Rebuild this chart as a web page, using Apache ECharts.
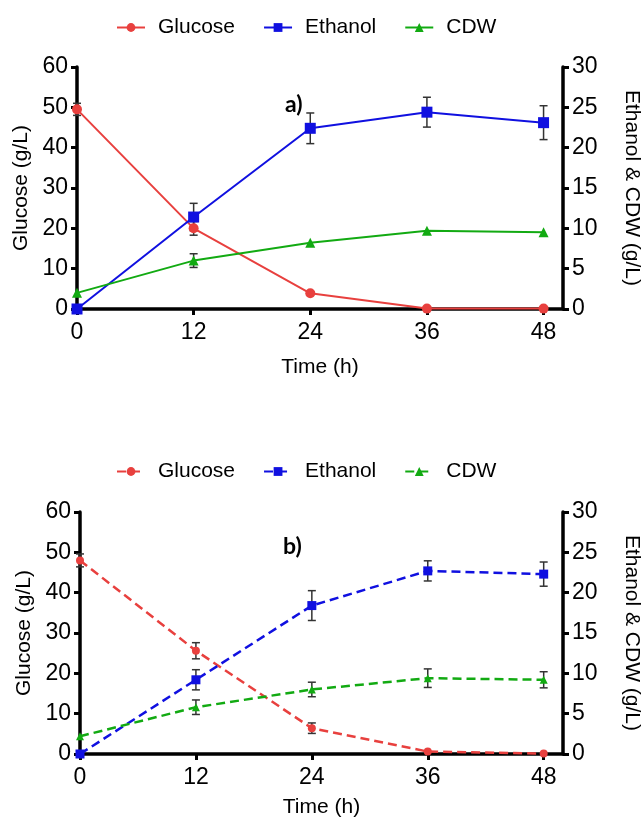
<!DOCTYPE html>
<html>
<head>
<meta charset="utf-8">
<script src="https://cdn.jsdelivr.net/npm/echarts@6/dist/echarts.min.js"></script>
<style>
  html, body { margin: 0; padding: 0; background: #fff; }
  #chart { width: 644px; height: 818px; }
</style>
</head>
<body>
<div id="chart"></div>
<script>
// time points (h)
var time = [0, 12, 24, 36, 48];
var xTicks = [0, 12, 24, 36, 48];

// panel a) - solid lines
var aGlucose = [49.5, 20.0, 3.9, 0.1, 0.1];
var aGlucoseErr = [1.5, 1.7, 0, 0, 0];
var aEthanol = [0, 11.4, 22.4, 24.4, 23.1];
var aEthanolErr = [0, 1.7, 1.9, 1.85, 2.1];
var aCdw = [2.0, 6.0, 8.2, 9.7, 9.5];
var aCdwErr = [0, 0.85, 0, 0, 0];

// panel b) - dashed lines
var bGlucose = [48.0, 25.6, 6.4, 0.6, 0.1];
var bGlucoseErr = [1.6, 2.0, 1.3, 0, 0];
var bEthanol = [0, 9.2, 18.4, 22.7, 22.3];
var bEthanolErr = [0, 1.25, 1.85, 1.25, 1.5];
var bCdw = [2.2, 5.8, 8.0, 9.4, 9.2];
var bCdwErr = [0, 0.9, 0.9, 1.15, 1.0];

var FONT = '"Liberation Sans", Arial, sans-serif';
var RED = '#e8403e', BLUE = '#1010e0', GREEN = '#12aa12';

function pairs(ys) {
    var out = [];
    for (var i = 0; i < time.length; i++) out.push([time[i], ys[i]]);
    return out;
}
function errData(ys, es) {
    var out = [];
    for (var i = 0; i < time.length; i++) {
        if (es[i] > 0) out.push([time[i], ys[i] - es[i], ys[i] + es[i]]);
    }
    return out;
}
function errRender(params, api) {
    var lo = api.coord([api.value(0), api.value(1)]);
    var hi = api.coord([api.value(0), api.value(2)]);
    var w = 4;
    var st = { stroke: '#333', lineWidth: 1.5 };
    return {
        type: 'group',
        children: [
            { type: 'line', shape: { x1: lo[0], y1: lo[1], x2: hi[0], y2: hi[1] }, style: st },
            { type: 'line', shape: { x1: lo[0] - w, y1: lo[1], x2: lo[0] + w, y2: lo[1] }, style: st },
            { type: 'line', shape: { x1: hi[0] - w, y1: hi[1], x2: hi[0] + w, y2: hi[1] }, style: st }
        ]
    };
}
function errSeries(ys, es, xi, yi) {
    return {
        type: 'custom', xAxisIndex: xi, yAxisIndex: yi,
        renderItem: errRender, data: errData(ys, es), z: 3, silent: true
    };
}
function lineSeries(name, ys, xi, yi, color, symbol, size, dashed) {
    return {
        name: name, type: 'line', xAxisIndex: xi, yAxisIndex: yi,
        data: pairs(ys), symbol: symbol, symbolSize: size,
        itemStyle: { color: color },
        lineStyle: { color: color, width: dashed ? 2.5 : 2, type: dashed ? [9, 5] : 'solid' },
        z: 4
    };
}

function xAxisOf(grid, gap) {
    return {
        type: 'value', gridIndex: grid, min: 0, max: 50,
        name: 'Time (h)', nameLocation: 'middle', nameGap: gap,
        nameTextStyle: { fontFamily: FONT, fontSize: 21, color: '#000' },
        axisLine: { lineStyle: { color: '#000', width: 3.5 } },
        axisTick: { show: true, length: 6, lineStyle: { color: '#000', width: 3 }, customValues: xTicks },
        axisLabel: { fontFamily: FONT, fontSize: 23, color: '#000', margin: 12, customValues: xTicks },
        splitLine: { show: false }
    };
}
function yLeftOf(grid) {
    return {
        type: 'value', gridIndex: grid, min: 0, max: 60, interval: 10, position: 'left',
        name: 'Glucose (g/L)', nameLocation: 'middle', nameGap: 44,
        nameTextStyle: { fontFamily: FONT, fontSize: 21, color: '#000' },
        axisLine: { show: true, lineStyle: { color: '#000', width: 3.5 } },
        axisTick: { show: true, length: 6, lineStyle: { color: '#000', width: 3 } },
        axisLabel: { fontFamily: FONT, fontSize: 23, color: '#000', margin: 9 },
        splitLine: { show: false }
    };
}
function yRightOf(grid) {
    return {
        type: 'value', gridIndex: grid, min: 0, max: 30, interval: 5, position: 'right',
        name: 'Ethanol & CDW (g/L)', nameLocation: 'middle', nameGap: 58, nameRotate: -90,
        nameTextStyle: { fontFamily: FONT, fontSize: 21, color: '#000' },
        axisLine: { show: true, lineStyle: { color: '#000', width: 3.5 } },
        axisTick: { show: true, length: 6, lineStyle: { color: '#000', width: 3 } },
        axisLabel: { fontFamily: FONT, fontSize: 23, color: '#000', margin: 9 },
        splitLine: { show: false }
    };
}
function legendOf(top, names) {
    return {
        top: top, left: 111, itemWidth: 28, itemHeight: 11, itemGap: 28,
        data: names,
        textStyle: { fontFamily: FONT, fontSize: 21, color: '#000', padding: [0, 0, 0, 8] },
        formatter: function (n) { return n.replace(' b', ''); }
    };
}

var chart = echarts.init(document.getElementById('chart'));
chart.setOption({
    backgroundColor: '#fff',
    animation: false,
    title: [
        { text: 'a)', left: 280, top: 88, textStyle: { fontFamily: 'Lato, sans-serif', fontWeight: 'bold', fontSize: 23, color: '#000' } },
        { text: 'b)', left: 278, top: 530, textStyle: { fontFamily: 'Lato, sans-serif', fontWeight: 'bold', fontSize: 23, color: '#000' } }
    ],
    legend: [
        legendOf(12, ['Glucose', 'Ethanol', 'CDW']),
        legendOf(456, ['Glucose b', 'Ethanol b', 'CDW b'])
    ],
    grid: [
        { left: 77, right: 81, top: 67, height: 242, outerBoundsMode: 'none' },
        { left: 80, right: 81, top: 512, height: 242, outerBoundsMode: 'none' }
    ],
    xAxis: [xAxisOf(0, 48), xAxisOf(1, 43)],
    yAxis: [yLeftOf(0), yRightOf(0), yLeftOf(1), yRightOf(1)],
    series: [
        errSeries(aGlucose, aGlucoseErr, 0, 0),
        errSeries(aEthanol, aEthanolErr, 0, 1),
        errSeries(aCdw, aCdwErr, 0, 1),
        lineSeries('Glucose', aGlucose, 0, 0, RED, 'circle', 10, false),
        lineSeries('Ethanol', aEthanol, 0, 1, BLUE, 'rect', 11, false),
        lineSeries('CDW', aCdw, 0, 1, GREEN, 'triangle', 10, false),

        errSeries(bGlucose, bGlucoseErr, 1, 2),
        errSeries(bEthanol, bEthanolErr, 1, 3),
        errSeries(bCdw, bCdwErr, 1, 3),
        lineSeries('Glucose b', bGlucose, 1, 2, RED, 'circle', 8, true),
        lineSeries('Ethanol b', bEthanol, 1, 3, BLUE, 'rect', 9, true),
        lineSeries('CDW b', bCdw, 1, 3, GREEN, 'triangle', 8, true)
    ]
});
</script>
</body>
</html>
